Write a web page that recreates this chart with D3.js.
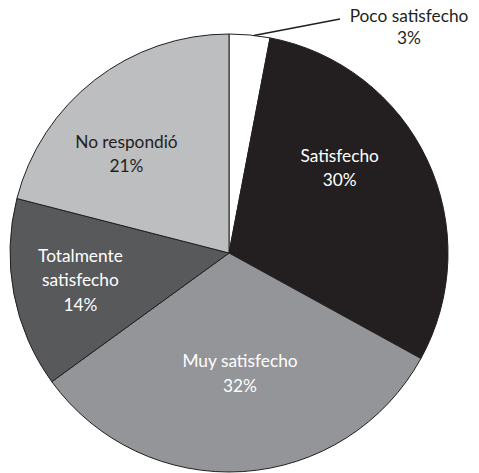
<!DOCTYPE html>
<html>
<head>
<meta charset="utf-8">
<script src="https://cdn.jsdelivr.net/npm/d3@7"></script>
<style>
  html, body { margin: 0; padding: 0; background: #fff; }
  svg { display: block; }
  text { font-family: Lato, "Open Sans", sans-serif; font-size: 17.3px; }
</style>
</head>
<body>
<svg id="chart" width="479" height="473"></svg>
<script>
// Survey answers, clockwise from twelve o'clock
const categories = ["Poco satisfecho", "Satisfecho", "Muy satisfecho", "Totalmente satisfecho", "No respondió"];
const values = [3, 30, 32, 14, 21];
const fills = ["#ffffff", "#231f20", "#939598", "#58595b", "#bcbec0"];
const textColors = ["#231f20", "#ffffff", "#ffffff", "#ffffff", "#231f20"];
// Label lines for each slice (the last line is the percentage)
const labelLines = [
  ["Poco satisfecho"],
  ["Satisfecho"],
  ["Muy satisfecho"],
  ["Totalmente", "satisfecho"],
  ["No respondió"]
];
// Where each label block sits: angle (deg, clockwise from top) and fraction of radius
const labelAngle = [null, 52.6, 174.8, 259.5, 313.9];
const labelRadius = [null, 0.636, 0.555, 0.69, 0.65];

const cx = 229, cy = 253, R = 219, lineH = 24.5;

const svg = d3.select("#chart");
const g = svg.append("g").attr("transform", `translate(${cx},${cy})`);

const data = categories.map((c, i) => ({ name: c, value: values[i], i }));
const pie = d3.pie().value(d => d.value).sort(null);
const arcs = pie(data);
const arc = d3.arc().innerRadius(0).outerRadius(R);

g.selectAll("path.slice")
  .data(arcs)
  .join("path")
  .attr("class", "slice")
  .attr("d", arc)
  .attr("fill", d => fills[d.data.i])
  .attr("stroke", "#231f20")
  .attr("stroke-width", 1)
  .attr("stroke-linejoin", "round");

const rad = a => a * Math.PI / 180;

// In-slice labels
arcs.forEach(d => {
  const i = d.data.i;
  if (labelAngle[i] == null) return;
  const a = rad(labelAngle[i]), r = labelRadius[i] * R;
  const x = Math.sin(a) * r, y = -Math.cos(a) * r;
  const lines = labelLines[i].concat([d.data.value + "%"]);
  const firstBase = y + 5.5 - (lines.length - 1) * lineH / 2;
  const t = g.append("text")
    .attr("text-anchor", "middle")
    .attr("fill", textColors[i]);
  lines.forEach((s, k) => {
    t.append("tspan").attr("x", x).attr("y", firstBase + k * lineH).text(s);
  });
});

// Small slice: leader line and outside label
const small = arcs[0];
const midA = (small.startAngle + small.endAngle) / 2 + 0.02;
const p0 = [Math.sin(midA) * R, -Math.cos(midA) * R];
const p1 = [340 - cx, 19 - cy];
g.append("line")
  .attr("x1", p0[0]).attr("y1", p0[1])
  .attr("x2", p1[0]).attr("y2", p1[1])
  .attr("stroke", "#231f20").attr("stroke-width", 1.6);
const outer = g.append("text")
  .attr("text-anchor", "middle")
  .attr("fill", textColors[0]);
[labelLines[0][0], small.data.value + "%"].forEach((s, k) => {
  outer.append("tspan").attr("x", 409 - cx).attr("y", 22 - cy + k * 22).text(s);
});
</script>
</body>
</html>
